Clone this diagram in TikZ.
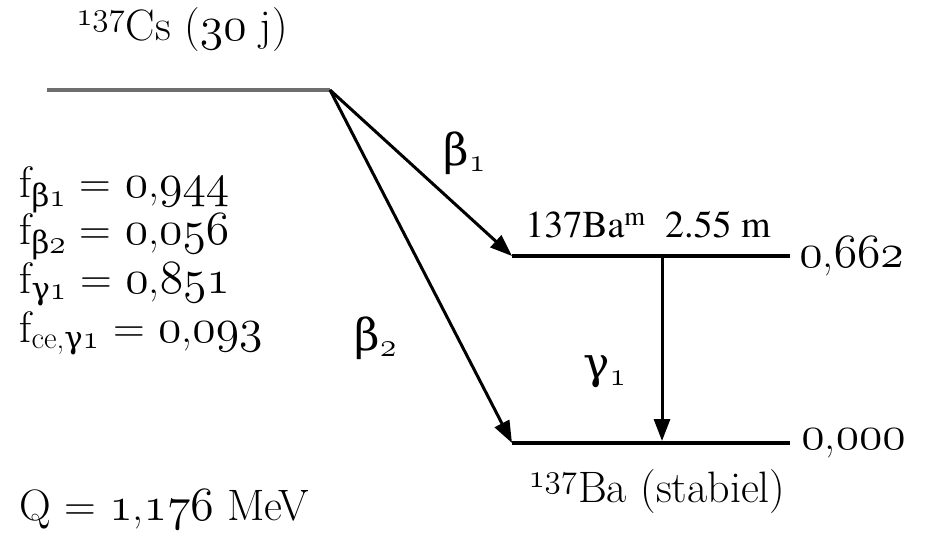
\documentclass[tikz,border=0pt]{standalone}
\usepackage[T1,TU]{fontenc}
\usepackage{fontspec}
\newfontfamily\grk{DejaVu Serif}
\newcommand\timesfont{\fontencoding{T1}\fontfamily{ptm}\selectfont}
\usetikzlibrary{arrows.meta}
\definecolor{csgray}{HTML}{6E6E6E}
\newcommand\osn[1]{\scalebox{1.15}{\usefont{OML}{cmm}{m}{it}#1}}

\begin{document}
\begin{tikzpicture}[x=0.5pt,y=-0.5pt,
    level/.style={line width=2pt},
    decay/.style={line width=1.5pt,-{Triangle[length=11pt,width=8pt]}},
    every node/.style={inner sep=1.5pt,font=\fontsize{22}{26}\selectfont}]
  \useasboundingbox (0,0) rectangle (936,538);
  % levels
  \coordinate (csL) at (47,90);   \coordinate (csR) at (330,90);
  \coordinate (bamL) at (512,256); \coordinate (bamR) at (790,256);
  \coordinate (baL) at (512,443);  \coordinate (baR) at (790,443);
  \coordinate (gtop) at (662,256); \coordinate (gbot) at (662,443);
  \draw[level,csgray,line width=2.4pt] (csL) -- (csR);
  \draw[level] (bamL) -- (bamR);
  \draw[level] (baL) -- (baR);
  \foreach \t in {bamL,baL} {\draw[decay] (csR) -- (\t);}
  \draw[decay,shorten >=1pt] (gtop) -- (gbot);
  % labels
  \node (cs) at (182,30) {\textsuperscript{\osn{137}}Cs (\osn{30} j)};
  \node (bam) at (648,225) {\timesfont\fontsize{19}{22}\selectfont 137Ba\textsuperscript{m}\ \ 2.55 m};
  \node (ba) at (657,492) {\textsuperscript{\osn{137}}Ba (stabiel)};
  \node[right=3pt] (e1) at (bamR) {\osn{0},\osn{662}};
  \node[right=4pt] (e0) at (baR) {\osn{0},\osn{000}};
  \node (b1) at (465,153) {\grk β\textsubscript{\osn{1}}};
  \node (b2) at (376,338) {\grk β\textsubscript{\osn{2}}};
  \node (g1) at (605,372) {\grk γ\textsubscript{\osn{1}}};
  \node[anchor=west] (fb1) at (16,190) {f\textsubscript{\grk β\osn{1}} = \osn{0},\osn{944}};
  \node[anchor=west] (fb2) at (16,237) {f\textsubscript{\grk β\osn{2}} = \osn{0},\osn{056}};
  \node[anchor=west] (fg1) at (16,284) {f\textsubscript{\grk γ\osn{1}} = \osn{0},\osn{851}};
  \node[anchor=west] (fce) at (16,333) {f\textsubscript{ce,\grk γ\osn{1}} = \osn{0},\osn{093}};
  \node[anchor=west] (q) at (16,510) {Q = \osn{1},\osn{176} MeV};
\end{tikzpicture}
\end{document}
